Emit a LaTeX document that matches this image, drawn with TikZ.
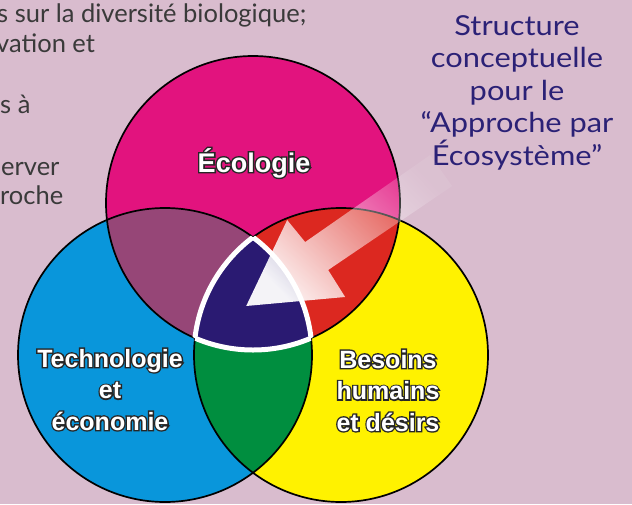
\documentclass[tikz,border=0pt]{standalone}
\usepackage{fontspec}
\setmainfont{Liberation Sans}
\newfontfamily\latofont{Lato}
\newfontfamily\latowide[FakeStretch=1.12]{Lato}
\usetikzlibrary{fadings}
\definecolor{outl}{HTML}{262626}
\newcommand\outlinedtext[1]{\rlap{\color{outl}\special{pdf:literal direct 2 Tr 2.8 w}#1\special{pdf:literal direct 0 Tr 1 w}}#1}
\definecolor{bg}{HTML}{D9BCCE}
\definecolor{magM}{HTML}{E2137E}
\definecolor{cyaC}{HTML}{0996DB}
\definecolor{yelY}{HTML}{FFF200}
\definecolor{mauveMC}{HTML}{964677}
\definecolor{redMY}{HTML}{DC2820}
\definecolor{greenCY}{HTML}{008E3F}
\definecolor{navyMCY}{HTML}{2A1A72}
\definecolor{titlecol}{HTML}{2B2176}
\definecolor{bodytext}{HTML}{3A3A3A}
\tikzfading[name=arrowfade, top color=transparent!5, bottom color=transparent!92]
\begin{document}
\begin{tikzpicture}[x=1pt,y=-1pt,
  ring/.style={draw=black, line width=1.7pt},
  whiteborder/.style={draw=white, line width=5pt},
  lbl/.style={text=white, font=\fontsize{25}{31.5}\selectfont\bfseries, align=center, anchor=base, inner sep=0pt},
  titletext/.style={text=titlecol, font=\latowide\fontsize{27.5}{32.5}\selectfont, align=center, anchor=base, inner sep=0pt},
  bodyline/.style={text=bodytext, font=\latofont\fontsize{25.5}{30}\selectfont, anchor=base west, inner sep=0pt}]
\useasboundingbox (0,0) rectangle (632,504);
\fill[bg] (0,0) rectangle (632,504);
% left body text (cut off)
\node[bodyline] (l1) at (-3,22) {s sur la diversité biologique;};
\node[bodyline] (l2) at (-4,52) {vation et};
\node[bodyline] (l3) at (0,113) {s à};
\node[bodyline] (l4) at (1,175) {erver};
\node[bodyline] (l5) at (0,204) {roche};
% title (anchor=base is the baseline of the last line)
\node[titletext] (title) at (517,165) {Structure\\conceptuelle\\pour le\\“Approche par\\Écosystème”};
% circles
\def\circM{(253,203) circle[radius=147pt]}
\def\circC{(165,355) circle[radius=147pt]}
\def\circY{(341,355) circle[radius=147pt]}
\fill[magM] \circM;
\fill[cyaC] \circC;
\fill[yelY] \circY;
\begin{scope}\clip \circM; \fill[mauveMC] \circC; \end{scope}
\begin{scope}\clip \circM; \fill[redMY] \circY; \end{scope}
\begin{scope}\clip \circC; \fill[greenCY] \circY; \end{scope}
\begin{scope}\clip \circM; \clip \circC; \fill[navyMCY] \circY; \end{scope}
\draw[ring] \circM;
\draw[ring] \circC;
\draw[ring] \circY;
\begin{scope}\clip \circM; \clip \circC; \draw[whiteborder] \circY; \end{scope}
\begin{scope}\clip \circM; \clip \circY; \draw[whiteborder] \circC; \end{scope}
\begin{scope}\clip \circC; \clip \circY; \draw[whiteborder] \circM; \end{scope}
% arrow
\fill[white, path fading=arrowfade, fading angle=124.6]
  (246,306) -- (287,220) -- (305,242) -- (430,155) -- (452,186) -- (328,270) -- (345,297) -- cycle;
% labels
\node[lbl, font=\fontsize{27}{31.5}\selectfont\bfseries] (eco) at (254,172) {\outlinedtext{Écologie}};
\node[lbl] (tech) at (110,430) {\outlinedtext{Technologie}\\\outlinedtext{et}\\\outlinedtext{économie}};
\node[lbl] (bes) at (388,431) {\outlinedtext{Besoins}\\\outlinedtext{humains}\\\outlinedtext{et désirs}};
\end{tikzpicture}
\end{document}
